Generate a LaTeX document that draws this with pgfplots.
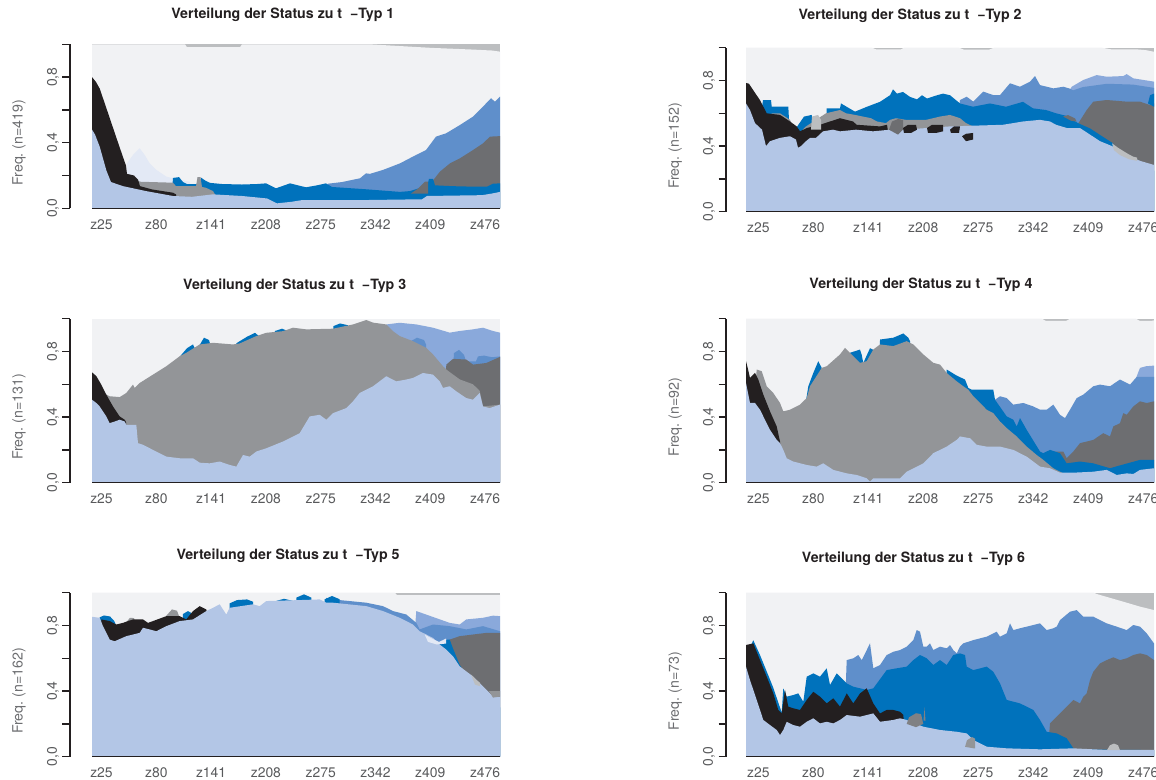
\documentclass[border=0pt]{standalone}
\usepackage{fontspec}
\setmainfont{TeX Gyre Heros}
\usepackage{pgfplots}
\pgfplotsset{compat=1.18}
\frenchspacing
\definecolor{bg}{HTML}{F1F2F4}
\definecolor{strip}{HTML}{BCBEC0}
\definecolor{lb}{HTML}{B3C6E6}
\definecolor{blk}{HTML}{231F20}
\definecolor{gm}{HTML}{939598}
\definecolor{gd}{HTML}{6D6E71}
\definecolor{gdd}{HTML}{808184}
\definecolor{bs}{HTML}{0072BC}
\definecolor{bm}{HTML}{5F8FCB}
\definecolor{bl}{HTML}{8AA9DB}
\definecolor{pb}{HTML}{E3E9F5}
\definecolor{lg}{HTML}{BCBEC0}
\definecolor{axc}{HTML}{231F20}
\definecolor{tickc}{HTML}{58595B}
\definecolor{labc}{HTML}{6D6E71}
\definecolor{titc}{HTML}{231F20}
\pgfplotsset{
  pan/.style={
    scale only axis, x=1bp, y=164bp,
    ymin=0, ymax=1, xmax=408,
    clip=false,
    axis lines*=left,
    x axis line style={draw=none},
    y axis line style={draw=axc, line width=1.5bp},
    ytick={0,0.2,0.4,0.6,0.8,1},
    yticklabels={{0{,}0},{},{0{,}4},{},{0{,}8},{}},
    xticklabels={z25,z80,z141,z208,z275,z342,z409,z476},
    tick align=outside,
    major tick length=7.5bp,
    ytick style={draw=axc, line width=1.5bp},
    xtick style={draw=none},
    /pgf/number format/assume math mode=true,
    ticklabel style={font=\fontsize{13.9bp}{15bp}\selectfont, text=tickc},
    yticklabel style={rotate=90, anchor=south},
    title style={font=\bfseries\fontsize{14.2bp}{16bp}\selectfont, text=titc, anchor=base},
    every axis y label/.style={at={(axis description cs:-0.11,0.4)}, rotate=90, anchor=base,
      font=\fontsize{14.2bp}{16bp}\selectfont, text=labc},
  },
  lft/.style={xmin=-22, xtick={9.5,64.3,119.1,173.9,228.7,283.5,338.3,393.1}},
  rgt/.style={xmin=-20, xtick={12.3,67.3,122.3,177.3,232.3,287.3,342.3,397.3}},
  ar/.style={fill=#1, draw=none, forget plot},
}
\newcommand{\xline}{\addplot[draw=axc, line width=1.5bp, forget plot] coordinates {(0,0) (408,0)};}
\begin{document}
\begin{tikzpicture}
\useasboundingbox (0,0) rectangle (1156bp,780bp);

% ---------------- Panel 1
\begin{axis}[pan, lft, at={(70bp,571.7bp)}, anchor=south west,
  title={Verteilung der Status zu t~~−Typ 1},
  title style={at={(axis description cs:0.495,1)}, yshift=20bp},
  ylabel={Freq. (n=419)}]
\addplot[ar=strip] coordinates {(0,1) (408,1)} \closedcycle;
\addplot[ar=bg] coordinates {(0,1) (93,1) (95,0.982) (148,0.982) (150,1) (277,1) (300,0.992) (340,0.978) (380,0.968) (400,0.962) (408,0.955)} \closedcycle;
\addplot[ar=bm] coordinates {(234,0.10) (236,0.15) (250,0.16) (268,0.183) (274,0.213) (278,0.21) (291,0.234) (308,0.274) (324,0.325) (334,0.355) (344,0.437) (354,0.457) (368,0.508) (381,0.559) (391,0.62) (399,0.671) (403,0.65) (408,0.681)} \closedcycle;
\addplot[ar=gd] coordinates {(339,0.10) (341,0.17) (348,0.224) (358,0.274) (368,0.305) (381,0.355) (391,0.396) (398,0.437) (408,0.44)} \closedcycle;
\addplot[ar=pb] coordinates {(34,0.2) (35,0.274) (41,0.325) (47.7,0.366) (52.7,0.325) (57.7,0.274) (64.4,0.234) (74.4,0.193) (81,0.183) (97.7,0.162) (100,0.1)} \closedcycle;
\addplot[ar=bs] coordinates {(80,0.10) (81,0.185) (87,0.19) (91,0.16) (95,0.148) (105,0.148) (106,0.12) (108,0.12) (109,0.187) (113,0.17) (118,0.155) (130,0.148) (150,0.145) (165,0.148) (174,0.152) (184,0.122) (198,0.152) (214,0.128) (225,0.14) (234,0.152) (240,0.13) (274,0.116) (308,0.10) (318,0.105) (330,0.128) (335,0.13) (337,0.18) (341,0.18) (343,0.14) (360,0.135) (380,0.132) (395,0.132) (401,0.15) (408,0.152)} \closedcycle;
\addplot[ar=gm] coordinates {(43,0.10) (44.5,0.173) (48,0.162) (81,0.156) (84,0.135) (104,0.135) (105.5,0.19) (108.5,0.19) (110,0.13) (114,0.125) (121,0.105) (123,0.085) (124,0.05)} \closedcycle;
\addplot[ar=blk] coordinates {(0,0.80) (4,0.77) (7.7,0.73) (14.4,0.61) (24.4,0.43) (30,0.33) (34,0.26) (35,0.21) (42,0.2) (46,0.175) (48,0.135) (60,0.115) (81,0.095) (84,0.085) (85,0.05)} \closedcycle;
\addplot[ar=lb] coordinates {(0,0.48) (3,0.45) (7.7,0.376) (14.4,0.23) (19,0.16) (31,0.135) (54,0.105) (81,0.075) (100,0.07) (121,0.085) (150,0.075) (175,0.06) (185,0.03) (200,0.04) (210,0.05) (270,0.05) (330,0.055) (335,0.075) (390,0.08) (400,0.09) (408,0.1)} \closedcycle;
\addplot[ar=gd] coordinates {(319,0.09) (326,0.12) (333,0.163) (336,0.163) (336,0.09)} -- cycle;
\xline
\end{axis}

% ---------------- Panel 2
\begin{axis}[pan, rgt, at={(726bp,568.3bp)}, anchor=south west,
  title={Verteilung der Status zu t~~−Typ 2},
  title style={at={(axis description cs:0.430,1)}, yshift=22.7bp},
  ylabel={Freq. (n=152)}]
\addplot[ar=strip] coordinates {(0,1) (408,1)} \closedcycle;
\addplot[ar=bg] coordinates {(0,1) (126,1) (130,0.99) (155,0.99) (158,1) (213,1) (218,0.988) (243,0.988) (248,1) (356,1) (365,0.99) (390,0.99) (400,0.985) (408,0.975)} \closedcycle;
\addplot[ar=bl] coordinates {(320,0.70) (325.7,0.762) (337.3,0.803) (350.7,0.833) (360.7,0.823) (377.3,0.827) (380.7,0.839) (387.3,0.813) (408,0.793)} \closedcycle;
\addplot[ar=bm] coordinates {(212,0.6) (214,0.681) (220.7,0.701) (227.3,0.671) (237.3,0.732) (247.3,0.711) (254,0.711) (264,0.783) (274,0.762) (284,0.793) (289,0.827) (294,0.772) (307.3,0.752) (317.3,0.762) (324,0.75) (327,0.74) (337,0.76) (361,0.78) (387,0.775) (408,0.755)} \closedcycle;
\addplot[ar=gd] coordinates {(331,0.4) (332.3,0.539) (340.7,0.62) (347.3,0.671) (360.7,0.681) (380.7,0.671) (394,0.671) (404,0.65) (408,0.66)} \closedcycle;
\addplot[ar=bs] coordinates {(14,0.55) (17,0.681) (25,0.681) (25.7,0.64) (42.3,0.64) (44,0.45) (50,0.45) (51,0.518) (58,0.58) (65.7,0.59) (67,0.5) (80,0.5) (80.7,0.63) (94,0.63) (95,0.66) (109,0.61) (121,0.64) (134,0.67) (144,0.71) (147,0.746) (151,0.72) (157,0.73) (164,0.70) (171,0.685) (176,0.71) (181,0.69) (191,0.71) (197,0.72) (204,0.71) (214,0.66) (227,0.64) (244,0.66) (260,0.64) (277,0.67) (287,0.63) (300,0.62) (310,0.60) (320,0.585) (332,0.54) (344,0.508) (354,0.468) (367,0.417) (370,0.38) (408,0.25)} \closedcycle;
\addplot[ar=gm] coordinates {(10,0.5) (26,0.6) (34,0.6) (44,0.56) (48,0.5) (52,0.47) (60,0.52) (70,0.56) (80,0.6) (94,0.62) (100,0.60) (109,0.59) (125,0.57) (131,0.55) (140,0.54) (144,0.56) (150,0.57) (160,0.56) (180,0.56) (194,0.58) (204,0.59) (214,0.57) (220,0.54) (227,0.52) (254,0.52) (258,0.5) (260,0.3)} \closedcycle;
\addplot[ar=blk] coordinates {(0,0.785) (3,0.78) (7.3,0.74) (14,0.68) (20.7,0.60) (34,0.59) (44,0.55) (50.7,0.52) (54,0.49) (60.7,0.51) (74,0.53) (84,0.55) (94,0.57) (107,0.55) (110.7,0.53) (134,0.52) (141,0.53) (143,0.45)} \closedcycle;
\addplot[ar=lb] coordinates {(0,0.66) (4,0.62) (9,0.54) (16,0.50) (20,0.40) (24,0.43) (34,0.45) (44,0.46) (50,0.44) (52,0.39) (55,0.40) (60,0.43) (64,0.45) (70,0.45) (77,0.49) (87,0.50) (94,0.49) (110,0.50) (127,0.49) (144,0.50) (157,0.50) (204,0.52) (257,0.53) (277,0.55) (294,0.56) (304,0.55) (310,0.53) (321,0.51) (334,0.51) (344,0.47) (354,0.43) (366,0.40) (374,0.37) (381,0.35) (387,0.33) (394,0.31) (408,0.285)} \closedcycle;
\addplot[ar=gd] coordinates {(143,0.50) (146,0.55) (152,0.565) (157,0.56) (157,0.50) (152,0.47)} -- cycle;
\addplot[ar=lg] coordinates {(65,0.50) (66,0.58) (72,0.59) (75,0.56) (75,0.50)} -- cycle;
\addplot[ar=lg] coordinates {(366,0.417) (372,0.39) (381,0.356) (387,0.336) (391,0.33) (391,0.31) (383,0.32) (374,0.345) (368,0.375)} -- cycle;
\addplot[ar=gd] coordinates {(317,0.58) (322,0.589) (329,0.569) (330.7,0.549) (325,0.555)} -- cycle;
\addplot[ar=bs] coordinates {(402,0.66) (404,0.71) (408,0.72) (408,0.64)} -- cycle;
\addplot[ar=blk] coordinates {(157,0.51) (162,0.53) (170,0.53) (171,0.50) (165,0.48) (158,0.48)} -- cycle;
\addplot[ar=blk] coordinates {(181,0.51) (186,0.53) (197,0.53) (197,0.49) (190,0.48) (182,0.48)} -- cycle;
\addplot[ar=blk] coordinates {(204,0.50) (208,0.52) (214,0.52) (213,0.48) (205,0.48)} -- cycle;
\addplot[ar=blk] coordinates {(216,0.46) (220,0.475) (227,0.48) (227,0.44) (220,0.43)} -- cycle;
\xline
\end{axis}

% ---------------- Panel 3
\begin{axis}[pan, lft, at={(70bp,297.3bp)}, anchor=south west,
  title={Verteilung der Status zu t~~−Typ 3},
  title style={at={(axis description cs:0.5226,1)}, yshift=23.5bp},
  ylabel={Freq. (n=131)}]
\addplot[ar=bg] coordinates {(0,1) (408,1)} \closedcycle;
\addplot[ar=bl] coordinates {(294,0.9) (294.3,0.965) (307.7,0.975) (324.3,0.965) (341,0.945) (357.7,0.915) (367.7,0.925) (381,0.935) (391,0.945) (401,0.925) (408,0.915)} \closedcycle;
\addplot[ar=bm] coordinates {(316,0.5) (318,0.86) (325,0.884) (332,0.87) (334,0.843) (336,0.6) (360,0.6) (362,0.79) (367,0.81) (372,0.78) (374,0.74) (384,0.74) (386,0.77) (392,0.775) (400,0.765) (408,0.77)} \closedcycle;
\addplot[ar=gd] coordinates {(353,0.5) (354.3,0.72) (361,0.755) (374.3,0.751) (381,0.72) (394.3,0.73) (408,0.767)} \closedcycle;
\addplot[ar=bs] coordinates {(87,0.5) (88,0.77) (95,0.82) (101,0.843) (104.3,0.80) (105,0.5) (107.7,0.84) (112,0.884) (117,0.87) (119.3,0.82) (120,0.5) (144,0.5) (144.3,0.85) (155,0.89) (163,0.914) (167.7,0.89) (168,0.5) (182.7,0.5) (183,0.925) (190,0.939) (196,0.925) (196.5,0.5) (241,0.5) (241.5,0.955) (248,0.971) (256,0.96) (256.5,0.5)} \closedcycle;
\addplot[ar=gm] coordinates {(8,0.4) (11,0.547) (17.7,0.527) (27.7,0.522) (34.3,0.547) (41,0.598) (42.7,0.578) (47.7,0.608) (61,0.659) (74.3,0.71) (87.7,0.771) (94.3,0.792) (107.7,0.843) (121,0.853) (141,0.843) (147.7,0.849) (164.3,0.894) (174.3,0.914) (191,0.924) (201,0.945) (214.3,0.935) (241,0.939) (261,0.965) (274.3,0.992) (281,0.976) (294.3,0.965) (301,0.924) (307.7,0.894) (321,0.863) (334.3,0.822) (341,0.782) (351,0.71) (354.3,0.69) (367.7,0.63) (381,0.60) (387.7,0.56) (391,0.465) (408,0.476)} \closedcycle;
\addplot[ar=blk] coordinates {(0,0.673) (4.3,0.65) (9.3,0.598) (14.3,0.537) (21,0.465) (27.7,0.404) (32.7,0.384) (34,0.37) (35,0.3)} \closedcycle;
\addplot[ar=lb] coordinates {(0,0.506) (4.3,0.486) (7.7,0.465) (14.3,0.404) (17.7,0.363) (22.7,0.373) (27.7,0.384) (32.7,0.373) (34.3,0.353) (44.3,0.353) (46,0.241) (51,0.231) (61,0.2) (74.3,0.159) (87.7,0.149) (101,0.149) (107.7,0.122) (117.7,0.118) (127.7,0.129) (137.7,0.108) (144.3,0.098) (151,0.169) (157.7,0.159) (164.3,0.19) (174.3,0.21) (191,0.251) (207.7,0.302) (217.7,0.404) (227.7,0.414) (234.3,0.384) (241,0.424) (254.3,0.455) (261,0.496) (267.7,0.547) (281,0.588) (294.3,0.649) (304.3,0.618) (314.3,0.629) (321,0.639) (331,0.669) (341,0.659) (347.7,0.618) (351,0.578) (357.7,0.588) (364.3,0.557) (374.3,0.516) (381,0.506) (387.7,0.547) (389.3,0.506) (391,0.465) (397.7,0.455) (408,0.476)} \closedcycle;
\xline
\end{axis}

% ---------------- Panel 4
\begin{axis}[pan, rgt, at={(726bp,297.3bp)}, anchor=south west,
  title={Verteilung der Status zu t~~−Typ 4},
  title style={at={(axis description cs:0.4555,1)}, yshift=24bp},
  ylabel={Freq. (n=92)}]
\addplot[ar=strip] coordinates {(0,1) (408,1)} \closedcycle;
\addplot[ar=bg] coordinates {(0,1) (296,1) (300,0.986) (320,0.986) (324,1) (390,1) (394,0.986) (405,0.986) (408,0.99)} \closedcycle;
\addplot[ar=bl] coordinates {(390,0.5) (390.7,0.649) (394,0.70) (400,0.71) (408,0.714)} \closedcycle;
\addplot[ar=bm] coordinates {(247,0.3) (249,0.506) (254,0.527) (260.7,0.516) (267.3,0.476) (277.3,0.486) (287.3,0.465) (294,0.445) (300.7,0.445) (307.3,0.476) (314,0.414) (319,0.394) (324,0.445) (330.7,0.516) (337.3,0.537) (347.3,0.588) (354,0.598) (364,0.588) (374,0.629) (384,0.598) (390.7,0.645) (408,0.645)} \closedcycle;
\addplot[ar=gd] coordinates {(306,0.1) (307.3,0.19) (317.3,0.19) (320.7,0.149) (327.3,0.19) (334,0.241) (347.3,0.261) (357.3,0.302) (364,0.282) (367.3,0.343) (374,0.363) (377.3,0.424) (380.7,0.414) (387.3,0.465) (394,0.496) (400.7,0.486) (408,0.496)} \closedcycle;
\addplot[ar=bs] coordinates {(60,0.5) (62.3,0.588) (67.3,0.669) (72.3,0.741) (75.7,0.70) (77,0.5) (103,0.5) (104,0.792) (114,0.812) (115.7,0.78) (117.3,0.73) (124,0.82) (127.3,0.81) (128,0.5) (133.5,0.5) (134,0.873) (147.3,0.884) (157.3,0.91) (162.3,0.884) (164,0.863) (165,0.5) (200,0.5) (200.7,0.69) (210.7,0.653) (219,0.629) (222.3,0.578) (225.7,0.567) (247.3,0.567) (249,0.506) (260.7,0.404) (267.3,0.384) (270.7,0.343) (274,0.394) (280.7,0.322) (294,0.19) (297.3,0.18) (304,0.2) (314,0.18) (320.7,0.118) (334,0.129) (347.3,0.118) (364,0.088) (370.7,0.1) (394,0.139) (408,0.139)} \closedcycle;
\addplot[ar=gm] coordinates {(8,0.5) (10.7,0.69) (15.7,0.68) (20.7,0.588) (27.3,0.547) (34,0.486) (37.3,0.435) (44,0.445) (54,0.476) (60.7,0.516) (64,0.588) (75.7,0.70) (80.7,0.71) (94,0.782) (99,0.822) (104,0.792) (114,0.731) (120.7,0.741) (127.3,0.812) (134,0.843) (147.3,0.833) (160.7,0.863) (167.3,0.843) (177.3,0.782) (187.3,0.731) (194,0.72) (200.7,0.669) (210.7,0.618) (217.3,0.588) (222.3,0.567) (227.3,0.527) (240.7,0.445) (247.3,0.424) (254,0.373) (260.7,0.333) (270.7,0.282) (280.7,0.22) (290.7,0.169) (297.3,0.139) (307.3,0.088) (314,0.067) (317.3,0.057) (320,0.03)} \closedcycle;
\addplot[ar=blk] coordinates {(0,0.741) (1.3,0.71) (4,0.639) (9,0.669) (12.3,0.629) (17.3,0.537) (24,0.435) (30.7,0.343) (34,0.251) (35,0.2)} \closedcycle;
\addplot[ar=lb] coordinates {(0,0.608) (4,0.486) (9,0.486) (14,0.445) (24,0.322) (30.7,0.261) (34,0.241) (37.3,0.2) (40.7,0.149) (47.3,0.129) (60.7,0.108) (70.7,0.098) (77.3,0.118) (87.3,0.078) (100.7,0.057) (110.7,0.047) (120.7,0.027) (124,0.006) (127.3,0.027) (154,0.027) (160.7,0.067) (177.3,0.118) (187.3,0.18) (200.7,0.22) (210.7,0.261) (214,0.282) (224,0.271) (230.7,0.231) (240.7,0.22) (254,0.22) (267.3,0.2) (280.7,0.159) (294,0.098) (304,0.088) (314,0.061) (327.3,0.061) (347.3,0.067) (360.7,0.078) (370.7,0.047) (380.7,0.057) (387.3,0.053) (394,0.078) (408,0.088)} \closedcycle;
\xline
\end{axis}

% ---------------- Panel 5
\begin{axis}[pan, lft, at={(70bp,23.3bp)}, anchor=south west,
  title={Verteilung der Status zu t~~−Typ 5},
  title style={at={(axis description cs:0.507,1)}, yshift=27.3bp},
  ylabel={Freq. (n=162)}]
\addplot[ar=strip] coordinates {(0,1) (408,1)} \closedcycle;
\addplot[ar=bg] coordinates {(0,1) (303,1) (305,0.985) (408,0.985)} \closedcycle;
\addplot[ar=bl] coordinates {(322,0.7) (324.3,0.888) (357.7,0.816) (367.7,0.806) (374.3,0.837) (391,0.847) (401,0.86) (408,0.857)} \closedcycle;
\addplot[ar=bm] coordinates {(232,0.9) (234.3,0.969) (241,0.959) (257.7,0.949) (274.3,0.939) (291,0.918) (301,0.888) (314.3,0.867) (324.3,0.816) (327.7,0.776) (341,0.806) (357.7,0.796) (374.3,0.776) (391,0.796) (408,0.765)} \closedcycle;
\addplot[ar=gd] coordinates {(355,0.5) (357.7,0.714) (367.7,0.735) (381,0.745) (394.3,0.755) (408,0.755)} \closedcycle;
\addplot[ar=bs] coordinates {(6,0.5) (7.7,0.85) (12,0.861) (18,0.855) (22,0.83) (24.3,0.80) (25,0.5) (90,0.5) (91,0.87) (96,0.888) (101,0.87) (102,0.5) (137,0.5) (137.7,0.935) (145,0.955) (155,0.959) (161,0.945) (161.5,0.5) (184,0.5) (184.3,0.95) (192,0.963) (201,0.95) (201.5,0.5) (204,0.5) (204.3,0.97) (212,0.99) (219.3,0.97) (219.8,0.5) (232.5,0.5) (232.7,0.96) (240,0.98) (247.7,0.96) (248,0.5) (345,0.5) (347.7,0.70) (352,0.712) (357.7,0.714) (361,0.66) (367.7,0.56) (374,0.50) (380,0.45) (408,0.30)} \closedcycle;
\addplot[ar=gm] coordinates {(33,0.6) (34.3,0.82) (38,0.847) (42,0.845) (44.3,0.80) (45,0.6) (73,0.6) (74.3,0.86) (80,0.898) (85,0.89) (87.7,0.847) (88,0.6)} \closedcycle;
\addplot[ar=blk] coordinates {(8,0.6) (9.3,0.837) (17.7,0.827) (24.3,0.806) (31,0.816) (36,0.827) (41,0.837) (51,0.837) (56,0.816) (61,0.827) (74.3,0.857) (87.7,0.857) (94.3,0.837) (101,0.888) (107.7,0.918) (114.3,0.898) (116,0.85) (117,0.6)} \closedcycle;
\addplot[ar=lb] coordinates {(0,0.853) (7.7,0.847) (11,0.796) (17.7,0.714) (22.7,0.704) (34.3,0.735) (47.7,0.755) (51,0.786) (57.7,0.776) (64.3,0.765) (74.3,0.796) (87.7,0.827) (101,0.837) (114.3,0.888) (121,0.908) (127.7,0.929) (131,0.898) (134.3,0.867) (137.7,0.908) (161,0.929) (167.7,0.918) (174.3,0.949) (207.7,0.955) (227.7,0.959) (234.3,0.939) (241,0.939) (274.3,0.918) (291,0.888) (307.7,0.847) (321,0.806) (327.7,0.765) (334.3,0.745) (341,0.724) (347.7,0.684) (354.3,0.653) (361,0.612) (367.7,0.551) (374.3,0.52) (381,0.49) (384.3,0.469) (391,0.429) (397.7,0.388) (401,0.367) (408,0.367)} \closedcycle;
\addplot[ar=pb] coordinates {(332.7,0.745) (340,0.72) (347,0.70) (354,0.72) (354,0.69) (345,0.684) (336,0.70)} -- cycle;
\addplot[ar=lg] coordinates {(379,0.50) (384,0.47) (388,0.45) (388,0.43) (383,0.44)} -- cycle;
\addplot[ar=gm] coordinates {(397,0.40) (408,0.40) (408,0.367) (401,0.36)} -- cycle;
\xline
\end{axis}

% ---------------- Panel 6
\begin{axis}[pan, rgt, at={(726bp,23.3bp)}, anchor=south west,
  title={Verteilung der Status zu t~~−Typ 6},
  title style={at={(axis description cs:0.438,1)}, yshift=24.4bp},
  ylabel={Freq. (n=73)}]
\addplot[ar=strip] coordinates {(0,1) (408,1)} \closedcycle;
\addplot[ar=bg] coordinates {(0,1) (348,1) (350.7,0.992) (377.3,0.945) (394,0.915) (408,0.894)} \closedcycle;
\addplot[ar=bm] coordinates {(99,0.3) (100.7,0.589) (107.3,0.60) (112.3,0.62) (115.7,0.589) (120.7,0.65) (124,0.691) (127.3,0.539) (134,0.559) (140.7,0.62) (147.3,0.64) (154,0.65) (160.7,0.671) (167.3,0.711) (170.7,0.772) (174,0.762) (177.3,0.671) (180.7,0.671) (184,0.691) (187.3,0.65) (194,0.671) (200.7,0.661) (204,0.681) (207.3,0.65) (210.7,0.63) (214,0.671) (217.3,0.691) (227.3,0.711) (240.7,0.732) (247.3,0.752) (250.7,0.762) (254,0.732) (260.7,0.752) (264,0.813) (267.3,0.772) (274,0.783) (280.7,0.793) (287.3,0.803) (294,0.813) (300.7,0.772) (307.3,0.783) (310.7,0.793) (314,0.833) (324,0.884) (330.7,0.894) (337.3,0.854) (347.3,0.854) (354,0.833) (360.7,0.813) (370.7,0.793) (380.7,0.772) (387.3,0.803) (394,0.793) (400.7,0.752) (408,0.691)} \closedcycle;
\addplot[ar=gd] coordinates {(302,0.05) (304,0.203) (310.7,0.244) (320.7,0.305) (327.3,0.346) (334,0.325) (337.3,0.366) (340.7,0.386) (344,0.467) (347.3,0.518) (354,0.569) (360.7,0.589) (367.3,0.606) (374,0.589) (380.7,0.60) (387.3,0.62) (394,0.63) (400.7,0.62) (408,0.589)} \closedcycle;
\addplot[ar=bs] coordinates {(0,0.55) (5,0.68) (7.3,0.71) (14,0.62) (20.7,0.52) (27.3,0.42) (32.3,0.33) (35.7,0.27) (37.3,0.417) (40.7,0.366) (47.3,0.376) (52.3,0.386) (57.3,0.335) (60.7,0.488) (67.3,0.508) (74,0.488) (80.7,0.539) (84,0.437) (90.7,0.508) (94,0.488) (100.7,0.447) (107.3,0.427) (120.7,0.407) (127.3,0.417) (140.7,0.528) (150.7,0.539) (160.7,0.549) (167.3,0.589) (174,0.62) (180.7,0.60) (187.3,0.559) (194,0.589) (200.7,0.559) (207.3,0.62) (214,0.63) (219,0.62) (220.7,0.549) (227.3,0.528) (240.7,0.549) (247.3,0.518) (254,0.447) (260.7,0.346) (274,0.325) (287.3,0.285) (294,0.224) (300.7,0.152) (310.7,0.142) (320.7,0.112) (327.3,0.051) (330.7,0.045) (408,0.04)} \closedcycle;
\addplot[ar=blk] coordinates {(0,0.681) (7.3,0.691) (14,0.589) (20.7,0.488) (27.3,0.386) (32.3,0.285) (35.7,0.264) (39,0.407) (42.3,0.305) (47.3,0.295) (54,0.285) (60.7,0.346) (67.3,0.396) (74,0.366) (80.7,0.325) (87.3,0.356) (94,0.305) (100.7,0.386) (107.3,0.325) (114,0.386) (120.7,0.417) (127.3,0.325) (134,0.264) (140.7,0.285) (147.3,0.285) (154,0.274) (157.3,0.254) (158,0.2)} \closedcycle;
\addplot[ar=lb] coordinates {(0,0.549) (4,0.467) (10.7,0.346) (17.3,0.224) (24,0.193) (30.7,0.163) (34,0.132) (37.3,0.163) (40.7,0.213) (47.3,0.193) (54,0.183) (60.7,0.213) (67.3,0.234) (74,0.203) (80.7,0.213) (87.3,0.203) (94,0.224) (100.7,0.254) (114,0.244) (127.3,0.264) (134,0.213) (147.3,0.224) (154,0.234) (160.7,0.224) (177.3,0.183) (194,0.163) (210.7,0.152) (220.7,0.142) (227.3,0.102) (240.7,0.061) (260.7,0.051) (294,0.045) (327.3,0.051) (360.7,0.041) (408,0.041)} \closedcycle;
\addplot[ar=gdd] coordinates {(160.7,0.20) (163,0.24) (170,0.265) (175,0.26) (177.3,0.2) (170,0.18)} -- cycle;
\addplot[ar=gdd] coordinates {(177.5,0.22) (178.5,0.30) (179.5,0.22)} -- cycle;
\addplot[ar=gm] coordinates {(219,0.06) (221,0.10) (226,0.12) (229,0.11) (229,0.05)} -- cycle;
\addplot[ar=lg] coordinates {(361,0.04) (364,0.07) (368,0.08) (372,0.07) (374,0.04)} -- cycle;
\xline
\end{axis}
\end{tikzpicture}
\end{document}
